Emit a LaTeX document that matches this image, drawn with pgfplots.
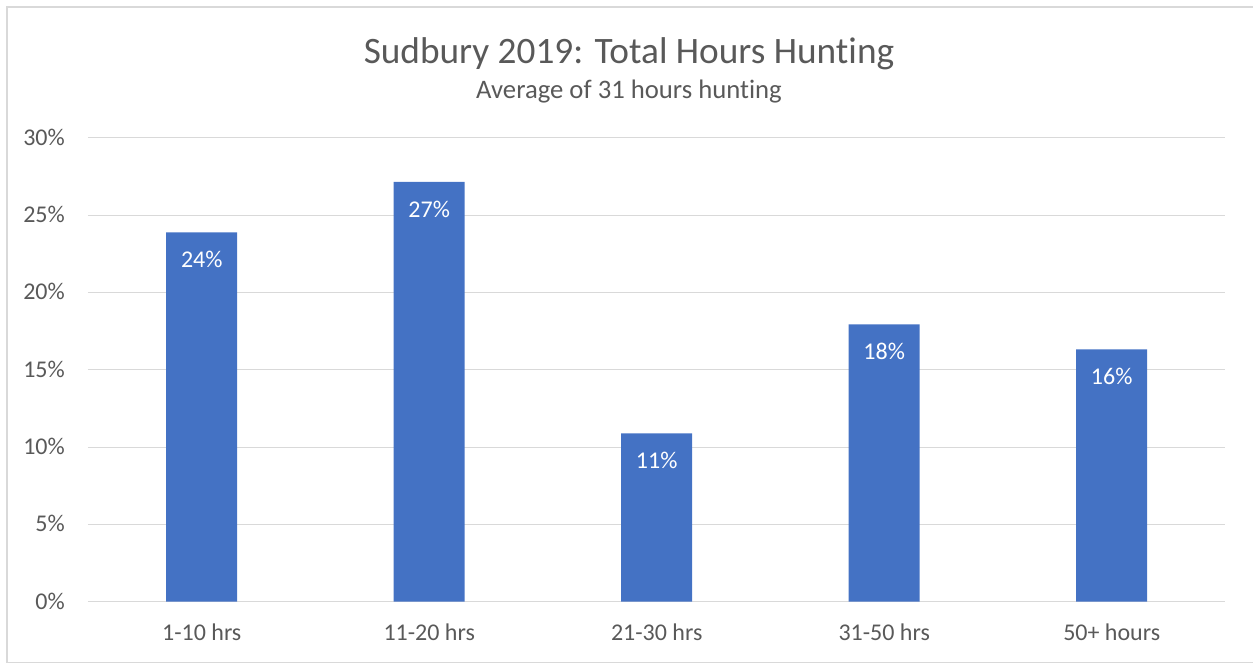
\documentclass[border=0pt]{standalone}
\usepackage{pgfplots}
\pgfplotsset{compat=1.18}
\usepackage{fontspec}
\setmainfont[Ligatures={NoCommon}]{Carlito}
\definecolor{barblue}{HTML}{4472C4}
\definecolor{txtgray}{HTML}{595959}
\definecolor{gridgray}{HTML}{D9D9D9}
\begin{document}
\begin{tikzpicture}
\begin{axis}[
  at={(0pt,0pt)}, anchor=south west,
  scale only axis,
  width=1137.5pt, height=464pt,
  ybar, bar width=71pt,
  xmin=-0.5, xmax=4.5,
  ymin=0, ymax=30,
  xtick={0,1,2,3,4},
  xticklabels={1-10 hrs,11-20 hrs,21-30 hrs,31-50 hrs,50+ hours},
  ytick={0,5,10,15,20,25,30},
  yticklabels={0\%,5\%,10\%,15\%,20\%,25\%,30\%},
  major tick length=0pt,
  axis line style={draw=none},
  ymajorgrids,
  grid style={draw=gridgray, line width=1pt},
  xticklabel style={anchor=base, inner sep=0pt, yshift=-39pt, text=txtgray, font=\fontsize{24}{28}\selectfont},
  yticklabel style={anchor=base east, inner sep=0pt, xshift=-23pt, yshift=-7.6pt, text=txtgray, font=\fontsize{24}{28}\selectfont},
  point meta=explicit symbolic,
  nodes near coords,
  nodes near coords style={anchor=base, inner sep=0pt, yshift=-35.5pt, text=white, font=\fontsize{24}{28}\selectfont},
  clip=false,
]
\addplot[fill=barblue, draw=none] table[meta=label] {
x y label
0 23.88 24\%
1 27.15 27\%
2 10.89 11\%
3 17.93 18\%
4 16.32 16\%
};
\end{axis}
\node[anchor=base, text=txtgray, font=\fontsize{37.3}{42}\selectfont, inner sep=0pt] at (541pt,537.7pt) {Sudbury 2019: Total Hours Hunting};
\node[anchor=base, text=txtgray, font=\fontsize{26.7}{30}\selectfont, inner sep=0pt] at (541pt,502.7pt) {Average of 31 hours hunting};
\draw[gridgray, line width=1.3pt] (1175pt,594.7pt) -- (-81pt,594.7pt) -- (-81pt,-60.8pt) -- (1175pt,-60.8pt);
\pgfresetboundingbox
\path[use as bounding box] (-88pt,-62.3pt) rectangle (1165pt,601.7pt);
\end{tikzpicture}
\end{document}
